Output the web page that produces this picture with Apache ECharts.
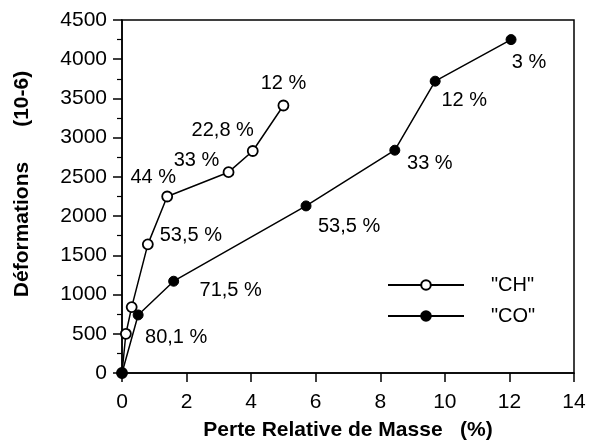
<!DOCTYPE html>
<html><head><meta charset="utf-8">
<script src="https://cdn.jsdelivr.net/npm/echarts@6/dist/echarts.min.js"></script>
<style>html,body{margin:0;padding:0;background:#fff}#c{width:598px;height:440px}</style>
</head><body><div id="c"></div>
<script>
// ---- data ----
const xTicks = [0, 2, 4, 6, 8, 10, 12, 14];
const yTicks = [0, 500, 1000, 1500, 2000, 2500, 3000, 3500, 4000, 4500];
const chX = [0, 0.12, 0.3, 0.8, 1.4, 3.3, 4.05, 5.0];
const chY = [0, 500, 840, 1640, 2250, 2560, 2830, 3410];
const chLabels = ['', '', '', '53,5 %', '44 %', '33 %', '22,8 %', '12 %'];
const coX = [0, 0.5, 1.6, 5.7, 8.45, 9.7, 12.05];
const coY = [0, 740, 1170, 2130, 2840, 3720, 4250];
const coLabels = ['', '80,1 %', '71,5 %', '53,5 %', '33 %', '12 %', '3 %'];
const seriesNames = ['"CH"', '"CO"'];
const xName = 'Perte Relative de Masse   (%)';
const yName = 'Déformations      (10-6)';

// ---- layout (label offsets in px from the marker) ----
const chOffsets = [null, null, null, [43, -9], [-14, -19], [-32, -12], [-30, -21], [0, -22]];
const coOffsets = [null, [38, 23], [57, 9], [43, 21], [35, 13], [29, 19], [18, 23]];

const FONT = '"Liberation Sans", Arial, Helvetica, sans-serif';

function build(xs, ys, labels, offsets) {
  return xs.map((x, i) => {
    const item = { value: [x, ys[i]] };
    if (labels[i]) {
      item.label = {
        show: true, formatter: labels[i], position: 'inside',
        offset: offsets[i], align: 'center', verticalAlign: 'middle',
        color: '#000', fontSize: 20, fontFamily: FONT
      };
    }
    return item;
  });
}

const chart = echarts.init(document.getElementById('c'), null, { renderer: 'canvas' });
chart.setOption({
  animation: false,
  backgroundColor: '#fff',
  grid: { left: 122, right: 24, top: 20, bottom: 67, containLabel: false, outerBoundsMode: 'none',
          show: true, borderColor: '#000', borderWidth: 1.5, backgroundColor: 'transparent' },
  xAxis: {
    type: 'value', min: xTicks[0], max: xTicks[xTicks.length - 1], interval: xTicks[1] - xTicks[0],
    axisLine: { show: true, lineStyle: { color: '#000', width: 1.5 } },
    axisTick: { show: true, inside: false, length: 9, lineStyle: { color: '#000', width: 1.5 } },
    axisLabel: { color: '#000', fontSize: 21, fontFamily: FONT, margin: 19, formatter: v => String(v) },
    splitLine: { show: false },
    name: xName, nameLocation: 'middle', nameGap: 47,
    nameTextStyle: { color: '#000', fontSize: 21, fontWeight: 'bold', fontFamily: FONT }
  },
  yAxis: {
    type: 'value', min: yTicks[0], max: yTicks[yTicks.length - 1], interval: yTicks[1] - yTicks[0],
    axisLine: { show: true, lineStyle: { color: '#000', width: 1.5 } },
    axisTick: { show: true, inside: false, length: 9, lineStyle: { color: '#000', width: 1.5 } },
    minorTick: { show: true, splitNumber: 2, length: 5, lineStyle: { color: '#000', width: 1.2 } },
    axisLabel: { color: '#000', fontSize: 21, fontFamily: FONT, margin: 15, formatter: v => String(v) },
    splitLine: { show: false },
    name: yName, nameLocation: 'middle', nameGap: 89,
    nameTextStyle: { color: '#000', fontSize: 21, fontWeight: 'bold', fontFamily: FONT, padding: [0, 0, 0, 25] }
  },
  legend: {
    orient: 'vertical', left: 387, top: 275, padding: 0,
    itemWidth: 76, itemHeight: 12, itemGap: 11,
    textStyle: { color: '#000', fontSize: 20, fontFamily: FONT, lineHeight: 20, padding: [0, 0, 0, 22] },
    data: seriesNames
  },
  series: [
    {
      name: seriesNames[0], type: 'line', z: 2,
      data: build(chX, chY, chLabels, chOffsets),
      symbol: 'circle', symbolSize: 10, showAllSymbol: true,
      lineStyle: { color: '#000', width: 1.5 },
      itemStyle: { color: '#fff', borderColor: '#000', borderWidth: 1.8 }
    },
    {
      name: seriesNames[1], type: 'line', z: 3,
      data: build(coX, coY, coLabels, coOffsets),
      symbol: 'circle', symbolSize: 10, showAllSymbol: true,
      lineStyle: { color: '#000', width: 1.5 },
      itemStyle: { color: '#000', borderColor: '#000', borderWidth: 1 }
    }
  ]
});
</script>
</body></html>
